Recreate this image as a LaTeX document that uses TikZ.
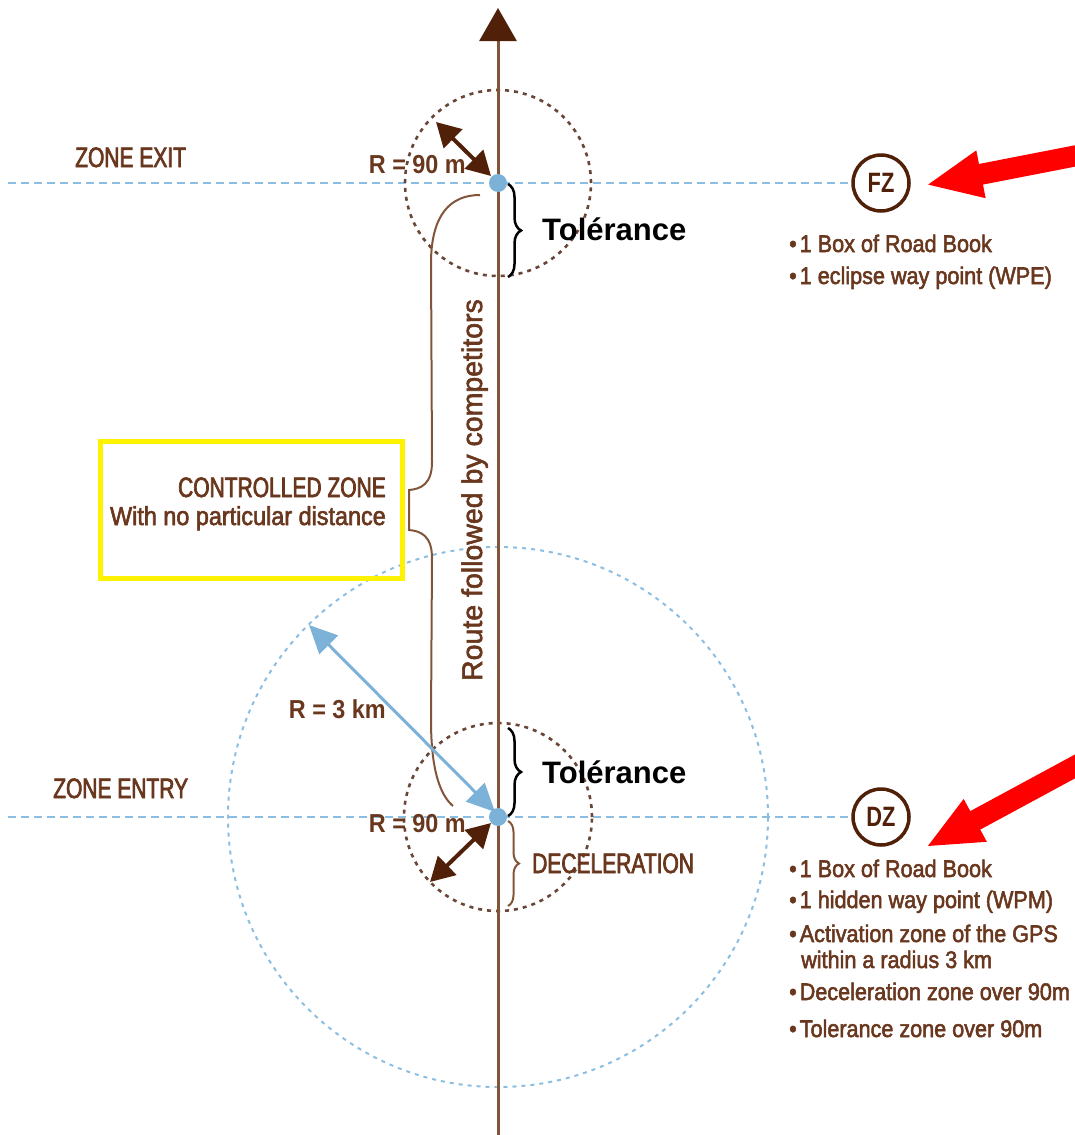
\documentclass[tikz,border=0pt]{standalone}
\usepackage{fontspec}
\setmainfont{Liberation Sans}
\newfontfamily\condA[FakeStretch=0.75,FakeBold=2.5]{Liberation Sans}
\newfontfamily\condB[FakeStretch=0.9,FakeBold=2.2]{Liberation Sans}
\newfontfamily\condBB[FakeStretch=0.9]{Liberation Sans Bold}
\newfontfamily\condAB[FakeStretch=0.78]{Liberation Sans Bold}
\newfontfamily\routefont[FakeBold=2]{Liberation Sans}
\usetikzlibrary{arrows.meta,decorations.pathreplacing}
\definecolor{tbrown}{RGB}{105,55,30}
\definecolor{dbrown}{RGB}{80,32,8}
\definecolor{lbrown}{RGB}{130,84,58}
\definecolor{dotbrown}{RGB}{105,70,55}
\definecolor{lblue}{RGB}{125,178,216}
\definecolor{dashblue}{RGB}{140,190,225}
\begin{document}
\begin{tikzpicture}[x=1pt,y=-1pt,
  bdash/.style={draw=dashblue, line width=2pt, dash pattern=on 8pt off 5pt},
  bigcirc/.style={draw=dashblue, line width=2pt, dash pattern=on 4pt off 5pt},
  dotcirc/.style={draw=dotbrown, line width=2.6pt, dash pattern=on 4pt off 5pt},
  route/.style={draw=lbrown, line width=3pt},
  dblarrow/.style={draw=dbrown, line width=4pt, {Triangle[length=24pt,width=26pt]}-{Triangle[length=24pt,width=26pt]}},
  blarrow/.style={draw=lblue, line width=3pt, {Triangle[length=28pt,width=26pt]}-{Triangle[length=28pt,width=26pt]}},
  redarrow/.style={draw=red, line width=21pt, -{Triangle[length=56pt,width=44pt]}},
  tolbrace/.style={draw=black, line width=2.5pt, decorate, decoration={brace, amplitude=13pt}},
  decbrace/.style={draw=lbrown, line width=2pt, decorate, decoration={brace, amplitude=11pt}},
  wpdot/.style={circle, fill=lblue, minimum size=18pt, inner sep=0pt},
  zonecirc/.style={circle, draw=dbrown, line width=3.5pt, minimum size=56pt, inner sep=0pt, text=dbrown, font=\condAB\fontsize{28}{28}\selectfont},
  caps/.style={text=tbrown, font=\condA\fontsize{28}{30}\selectfont, inner sep=0pt},
  lc/.style={text=tbrown, font=\condB\fontsize{26}{28}\selectfont, inner sep=0pt},
  listitem/.style={text=tbrown, font=\condB\fontsize{24}{26}\selectfont, inner sep=0pt, anchor=base west},
  rlab/.style={text=tbrown, font=\condBB\fontsize{26}{28}\selectfont, inner sep=0pt, anchor=base east},
  tolab/.style={font=\bfseries\fontsize{31}{33}\selectfont, inner sep=0pt, anchor=base west}
]
\useasboundingbox (0,0) rectangle (1075,1135);

% key points
\coordinate (fz) at (498,183);
\coordinate (dz) at (498,817);
\coordinate (rbot) at (498,1140);
\coordinate (rtop) at (498,8);

% zone labels (circles)
\node[zonecirc] (FZ) at (881,183) {FZ};
\node[zonecirc] (DZ) at (881,817) {DZ};

% horizontal dashed lines
\coordinate (lx1) at (8,183);
\coordinate (lx2) at (8,817);
\draw[bdash] (lx1) -- (FZ.west);
\draw[bdash] (lx2) -- (DZ.west);

% big activation circle
\draw[bigcirc] (dz) circle[radius=270pt];

% dotted 90 m circles
\draw[dotcirc] (fz) circle[radius=93pt];
\draw[dotcirc] (dz) circle[radius=94pt];

% route
\draw[route, -{Triangle[length=33pt,width=37pt,color=dbrown]}] (rbot) -- (rtop);
\node[text=tbrown, font=\routefont\fontsize{28.5}{30}\selectfont, inner sep=0pt, rotate=90, anchor=base] (route) at (482,490) {Route followed by competitors};

% big left brace (controlled zone)
\draw[draw=lbrown, line width=2pt]
  (480,195) .. controls (450,195) and (432,215) .. (431,260)
  -- (432,462) .. controls (432,484) and (421,489) .. (409,490)
  -- (409,530) .. controls (421,531) and (432,536) .. (432,558)
  -- (431,720) .. controls (431,770) and (440,795) .. (453,806);

% controlled zone box
\node[draw=yellow, line width=5pt, minimum width=302pt, minimum height=137pt, inner sep=0pt] (czbox) at (251,509.5) {};
\node[caps, anchor=base east] (cz1) at (386,497) {CONTROLLED ZONE};
\node[lc, anchor=base east] (cz2) at (386,525) {With no particular distance};

% zone titles
\node[caps, anchor=base west] (zexit) at (75,167) {ZONE EXIT};
\node[caps, anchor=base west] (zentry) at (53,798) {ZONE ENTRY};

% radius arrows
\coordinate (a1s) at (436,122);
\coordinate (a1e) at (491,176);
\draw[dblarrow] (a1s) -- (a1e);
\node[rlab] (r90a) at (466,173) {R = 90 m};

\coordinate (a2s) at (491,823);
\coordinate (a2e) at (430,882);
\draw[dblarrow] (a2s) -- (a2e);
\node[rlab] (r90b) at (466,832) {R = 90 m};

\coordinate (b1s) at (309,625);
\coordinate (b1e) at (495,812);
\draw[blarrow] (b1s) -- (b1e);
\node[rlab] (r3) at (386,718) {R = 3 km};

% waypoint dots
\node[wpdot] (fzdot) at (fz) {};
\node[wpdot] (dzdot) at (dz) {};

% tolerance braces
\coordinate (t1a) at (508,184);
\coordinate (t1b) at (508,277);
\draw[tolbrace] (t1a) -- (t1b);
\node[tolab] (tol1) at (542,240) {Tolérance};

\coordinate (t2a) at (508,728);
\coordinate (t2b) at (508,816);
\draw[tolbrace] (t2a) -- (t2b);
\node[tolab] (tol2) at (542,783) {Tolérance};

\coordinate (d1a) at (508,821);
\coordinate (d1b) at (508,906);
\draw[decbrace] (d1a) -- (d1b);
\node[caps, anchor=base west] (decel) at (532,873) {DECELERATION};

% lists
\node[listitem] (f1) at (789,252) {•\hspace{3pt}1 Box of Road Book};
\node[listitem] (f2) at (789,284) {•\hspace{3pt}1 eclipse way point (WPE)};

\node[listitem] (d1) at (789,877) {•\hspace{3pt}1 Box of Road Book};
\node[listitem] (d2) at (789,908) {•\hspace{3pt}1 hidden way point (WPM)};
\node[listitem] (d3) at (789,942) {•\hspace{3pt}Activation zone of the GPS};
\node[listitem] (d4) at (801,968) {within a radius 3 km};
\node[listitem] (d5) at (789,1000) {•\hspace{3pt}Deceleration zone over 90m};
\node[listitem] (d6) at (789,1037) {•\hspace{3pt}Tolerance zone over 90m};

% red arrows
\coordinate (ra1s) at (1085,154);
\coordinate (ra1e) at (926,185);
\draw[redarrow] (ra1s) -- (ra1e);
\coordinate (ra2s) at (1085,761);
\coordinate (ra2e) at (926,847);
\draw[redarrow] (ra2s) -- (ra2e);
\end{tikzpicture}
\end{document}
